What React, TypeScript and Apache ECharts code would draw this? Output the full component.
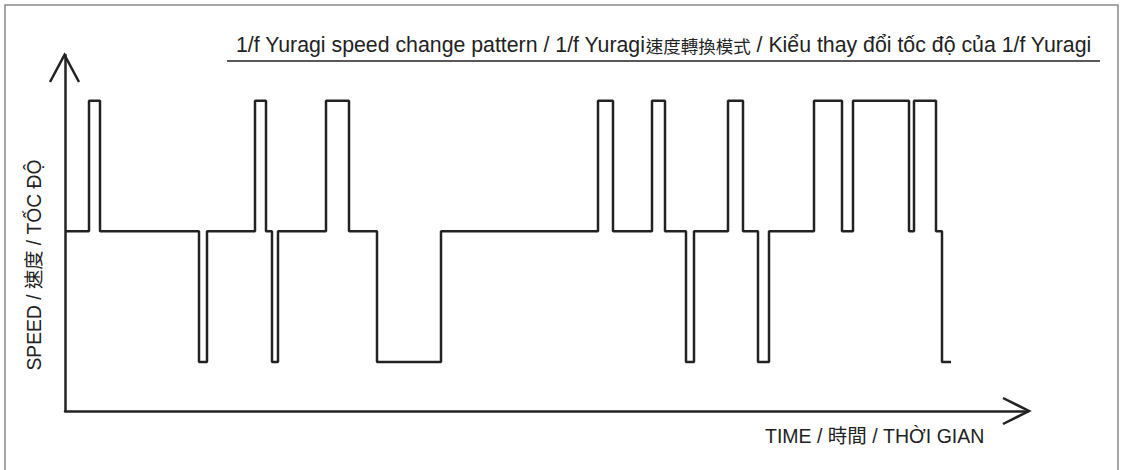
import React, { useEffect, useRef } from "react";
import * as echarts from "echarts";

// Moments (time units) at which the speed level changes, and the new level
const changeTimes = [0, 24, 35, 134, 142, 190, 201, 207, 213, 261, 284, 312, 376, 533, 548, 587, 600, 621, 629, 663, 678, 693, 704, 749, 777, 788, 844, 849, 871, 877, 886];
const speedLevels = [55, 95, 55, 15, 55, 95, 55, 15, 55, 95, 55, 15, 55, 95, 55, 95, 55, 15, 55, 95, 55, 15, 55, 95, 55, 95, 55, 95, 55, 15, 15];

const titleParts = ["1/f Yuragi speed change pattern / 1/f Yuragi", "速度轉換模式", " / Kiểu thay đổi tốc độ của 1/f Yuragi"];
const xName = "TIME / 時間 / THỜI GIAN";
const yName = "SPEED / 速度 / TỐC ĐỘ";

const FONT = "'Liberation Sans', Arial, 'Noto Sans CJK TC', sans-serif";
const CJK = "'Noto Sans CJK TC', sans-serif";
const INK = "#222222";

export default function App() {
  const ref = useRef<HTMLDivElement>(null);
  useEffect(() => {
    if (!ref.current) return;
    const chart = echarts.init(ref.current, undefined, { renderer: "svg" });
    const data = changeTimes.map((t, i) => [t, speedLevels[i]]);
    chart.setOption({
      animation: false,
      backgroundColor: "#ffffff",
      grid: { left: 65, right: 96, top: 55, bottom: 59 },
      xAxis: {
        type: "value",
        min: 0,
        max: 963,
        axisLine: { show: true, lineStyle: { color: INK, width: 2.5 } },
        axisTick: { show: false },
        axisLabel: { show: false },
        splitLine: { show: false },
      },
      yAxis: {
        type: "value",
        min: 0,
        max: 109,
        axisLine: { show: true, lineStyle: { color: INK, width: 2.5 } },
        axisTick: { show: false },
        axisLabel: { show: false },
        splitLine: { show: false },
      },
      series: [
        {
          type: "line",
          step: "end",
          data,
          symbol: "none",
          lineStyle: { color: INK, width: 2.5 },
        },
      ],
      graphic: [
        {
          type: "rect",
          shape: { x: 5, y: 5, width: 1113, height: 500 },
          style: { fill: "none", stroke: "#8a8a8a", lineWidth: 1.5 },
          silent: true,
        },
        {
          type: "polyline",
          shape: { points: [[50, 82], [64.5, 55], [79, 82]] },
          style: { fill: "none", stroke: INK, lineWidth: 2.5 },
        },
        {
          type: "polyline",
          shape: { points: [[1003, 398], [1029, 411], [1003, 424]] },
          style: { fill: "none", stroke: INK, lineWidth: 2.5 },
        },
        {
          type: "line",
          shape: { x1: 227, y1: 61, x2: 1100, y2: 61 },
          style: { stroke: INK, lineWidth: 1.5 },
        },
        {
          type: "text",
          x: 236,
          y: 45,
          style: {
            text: `{a|${titleParts[0]}}{c|${titleParts[1]}}{a|${titleParts[2]}}`,
            fill: INK,
            verticalAlign: "middle",
            rich: {
              a: { font: `21.3px ${FONT}`, fill: INK, verticalAlign: "middle" },
              c: { font: `17.5px ${CJK}`, fill: INK, verticalAlign: "middle" },
            },
          },
        },
        {
          type: "text",
          x: 765,
          y: 436,
          style: {
            text: xName,
            font: `19.5px ${FONT}`,
            fill: INK,
            verticalAlign: "middle",
          },
        },
        {
          type: "text",
          x: 34,
          y: 265,
          rotation: Math.PI / 2,
          style: {
            text: yName,
            font: `19.3px ${FONT}`,
            fill: INK,
            align: "center",
            verticalAlign: "middle",
          },
        },
      ],
    });
    return () => chart.dispose();
  }, []);
  return (
    <div
      ref={ref}
      style={{ position: "fixed", left: 0, top: 0, width: 1124, height: 470, background: "#fff" }}
    />
  );
}
